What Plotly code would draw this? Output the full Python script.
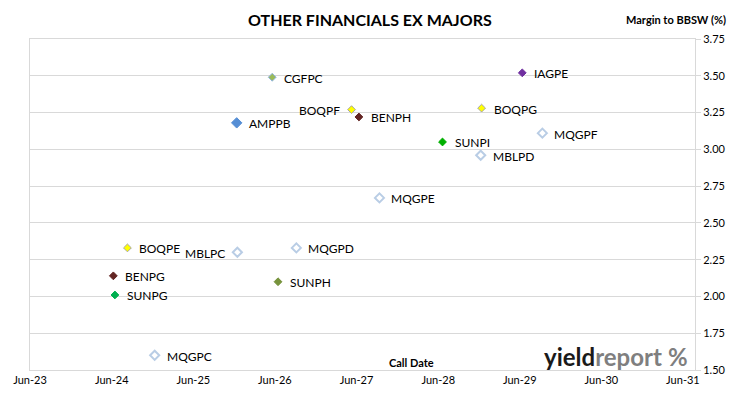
import plotly.graph_objects as go

# ---- data ----
names = ["CGFPC", "AMPPB", "BOQPF", "BENPH", "IAGPE", "BOQPG", "MQGPF", "SUNPI",
         "MBLPD", "MQGPE", "BOQPE", "MBLPC", "MQGPD", "BENPG", "SUNPG", "SUNPH", "MQGPC"]
call_dates = ["2026-05-20", "2025-12-12", "2027-05-10", "2027-06-12", "2029-06-12",
              "2028-12-12", "2029-09-10", "2028-06-20", "2028-12-08", "2027-09-12",
              "2024-08-10", "2025-12-15", "2026-09-05", "2024-06-08", "2024-06-15",
              "2026-06-15", "2024-12-10"]
margins = [3.49, 3.18, 3.27, 3.22, 3.52, 3.28, 3.11, 3.05,
           2.96, 2.67, 2.33, 2.30, 2.33, 2.14, 2.01, 2.10, 1.60]
label_side = ["right", "right", "left", "right", "right", "right", "right", "right",
              "right", "right", "right", "left", "right", "right", "right", "right", "right"]

x_tick_vals = ["2023-06-01", "2024-06-01", "2025-06-01", "2026-06-01", "2027-06-01",
               "2028-06-01", "2029-06-01", "2030-06-01", "2031-06-01"]
x_tick_text = ["Jun-23", "Jun-24", "Jun-25", "Jun-26", "Jun-27", "Jun-28", "Jun-29", "Jun-30", "Jun-31"]
y_tick_vals = [1.50, 1.75, 2.00, 2.25, 2.50, 2.75, 3.00, 3.25, 3.50, 3.75]

# ---- styles ----
styles = {
    "CGFPC": dict(fill="#9BBB59", line="#8EB4E3", size=6, symbol="diamond"),
    "AMPPB": dict(fill="#558ED5", line="#558ED5", size=8, symbol="diamond"),
    "BOQPF": dict(fill="#FFFF00", line="#A6A6A6", size=6, symbol="diamond"),
    "BOQPG": dict(fill="#FFFF00", line="#A6A6A6", size=6, symbol="diamond"),
    "BOQPE": dict(fill="#FFFF00", line="#A6A6A6", size=6, symbol="diamond"),
    "BENPH": dict(fill="#632523", line="#632523", size=6, symbol="diamond"),
    "BENPG": dict(fill="#632523", line="#632523", size=6, symbol="diamond"),
    "IAGPE": dict(fill="#7030A0", line="#7030A0", size=6, symbol="diamond"),
    "SUNPI": dict(fill="#00B000", line="#00B000", size=6, symbol="diamond"),
    "SUNPG": dict(fill="#00B050", line="#00B050", size=6, symbol="diamond"),
    "SUNPH": dict(fill="#77933C", line="#77933C", size=6, symbol="diamond"),
}
hollow = dict(fill="#FFFFFF", line="#B9CDE5", size=7, symbol="diamond-open")

font_family = "Lato, Open Sans, sans-serif"

fig = go.Figure()
for n, d, m in zip(names, call_dates, margins):
    s = styles.get(n, hollow)
    if s["symbol"] == "diamond-open":
        marker = dict(symbol="diamond-open", size=7, color=s["line"], line=dict(width=2, color=s["line"]))
    else:
        marker = dict(symbol="diamond", size=s["size"], color=s["fill"], line=dict(width=1, color=s["line"]))
    fig.add_trace(go.Scatter(x=[d], y=[m], mode="markers", marker=marker, name=n,
                             showlegend=False, hoverinfo="text", text=[n]))

annotations = []
for n, d, m, side in zip(names, call_dates, margins, label_side):
    annotations.append(dict(x=d, y=m, xref="x", yref="y", text=n, showarrow=False,
                            xanchor="left" if side == "right" else "right",
                            xshift=10 if side == "right" else -10, yshift=-1,
                            font=dict(family=font_family, size=12, color="#000000")))

annotations += [
    dict(text="<b>OTHER FINANCIALS EX MAJORS</b>", xref="paper", yref="paper",
         x=0.511, y=1.0, yshift=20, xanchor="center", yanchor="middle", showarrow=False,
         font=dict(family=font_family, size=16, color="#000000")),
    dict(text="<b>Margin to BBSW (%)</b>", xref="paper", yref="paper",
         x=1.0, y=1.0, xshift=33, yshift=20, xanchor="right", yanchor="middle", showarrow=False,
         font=dict(family=font_family, size=11, color="#000000")),
    dict(text="<b>Call Date</b>", xref="paper", yref="paper",
         x=0.573, y=0.0, yshift=8, xanchor="center", yanchor="middle", showarrow=False,
         font=dict(family=font_family, size=11, color="#000000")),
    dict(text="<b>yield</b><span style='color:#7F7F7F'><b>report</b></span> <span style='color:#7F7F7F'><b>%</b></span>",
         xref="paper", yref="paper", x=0.993, y=0.0, yshift=14, xanchor="right", yanchor="middle",
         showarrow=False, font=dict(family=font_family, size=24, color="#1A1A1A")),
]

fig.update_layout(
    width=730, height=399,
    margin=dict(l=30, r=35, t=39, b=29, autoexpand=False),
    paper_bgcolor="white", plot_bgcolor="white",
    annotations=annotations,
    font=dict(family=font_family, size=11, color="#000000"),
    xaxis=dict(type="date", range=["2023-06-01", "2031-07-25"], automargin=False,
               tickvals=x_tick_vals, ticktext=x_tick_text,
               showgrid=False, zeroline=False, showline=True, mirror=True,
               linecolor="#D9D9D9", linewidth=1, ticks="", tickfont=dict(size=11, family=font_family)),
    yaxis=dict(range=[1.5, 3.75], tickvals=y_tick_vals, tickformat=".2f", side="right",
               automargin=False,
               showgrid=True, gridcolor="#D9D9D9", gridwidth=1, zeroline=False,
               showline=True, mirror=True, linecolor="#D9D9D9", linewidth=1,
               ticks="outside", ticklen=5, tickcolor="#D9D9D9",
               tickfont=dict(size=11, family=font_family)),
)

fig.write_html("out.html", config={"displayModeBar": False},
               post_script="document.body.style.margin='0';document.body.style.padding='0';")
